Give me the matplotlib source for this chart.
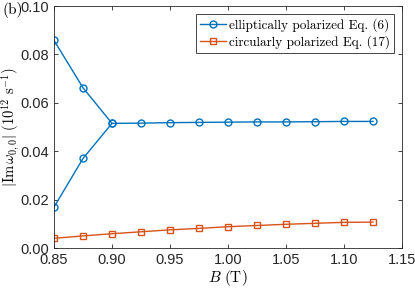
import numpy as np
import matplotlib
matplotlib.use('Agg')
from matplotlib import pyplot as plt

plt.rcParams['mathtext.fontset'] = 'cm'
plt.rcParams['font.family'] = ['Liberation Sans', 'DejaVu Sans']

# field values (T)
B_upper = [0.85, 0.875, 0.90]
ell_upper = [0.0858, 0.0662, 0.0515]
B_lower = [0.85, 0.875, 0.90, 0.925, 0.95, 0.975, 1.0, 1.025, 1.05, 1.075, 1.10, 1.125]
ell_lower = [0.0169, 0.0370, 0.0515, 0.0516, 0.0518, 0.0519, 0.0520, 0.0521, 0.0521, 0.0522, 0.0523, 0.0523]
B_circ = [0.85, 0.875, 0.90, 0.925, 0.95, 0.975, 1.0, 1.025, 1.05, 1.075, 1.10, 1.125]
circ = [0.0040, 0.0050, 0.0059, 0.0067, 0.0075, 0.0081, 0.0088, 0.0093, 0.0098, 0.0102, 0.0106, 0.0107]

blue = '#0072BD'
orange = '#D95319'

fig = plt.figure(figsize=(4.15, 2.91), dpi=100)
ax = fig.add_axes([54/415, 1-248/291, 348/415, 242/291])

ax.plot(B_lower, ell_lower, '-o', color=blue, lw=1.0, ms=5, mfc='none', mew=1.0,
        label='elliptically polarized Eq. (6)')
ax.plot(B_upper, ell_upper, '-o', color=blue, lw=1.0, ms=5, mfc='none', mew=1.0)
ax.plot(B_circ, circ, '-s', color=orange, lw=1.0, ms=4, mfc='none', mew=1.0,
        label='circularly polarized Eq. (17)')

ax.set_xlim(0.85, 1.15)
ax.set_ylim(0, 0.10)
ax.set_xticks(np.arange(0.85, 1.151, 0.05))
ax.set_yticks(np.arange(0, 0.101, 0.02))
ax.xaxis.set_major_formatter(matplotlib.ticker.FormatStrFormatter('%.2f'))
ax.yaxis.set_major_formatter(matplotlib.ticker.FormatStrFormatter('%.2f'))
ax.tick_params(direction='in', top=True, right=True, length=3, labelsize=10.5,
               colors='#262626', labelcolor='#262626', width=0.6)
for s in ax.spines.values():
    s.set_color('#262626')
    s.set_linewidth(0.6)

ax.set_xlabel(r'$B\ (\mathrm{T})$', fontsize=11, labelpad=1)
ax.set_ylabel(r'$|\mathrm{Im}\,\omega_{0,0}|\ (10^{12}\ \mathrm{s}^{-1})$', fontsize=10.5,
              va='center')
ax.yaxis.set_label_coords(-(54 - 10) / 348, 0.5)

leg = ax.legend(loc='upper right', prop={'family': 'cmr10', 'size': 9.5},
                fancybox=False, edgecolor='#262626', framealpha=1,
                handlelength=2.0, handletextpad=0.2, borderpad=0.3,
                labelspacing=0.3, borderaxespad=0.6)
leg.get_frame().set_linewidth(0.6)

fig.text(2/415, 1-14/291, '(b)', fontsize=11, family='cmr10')

fig.savefig('out.png', dpi=100)
